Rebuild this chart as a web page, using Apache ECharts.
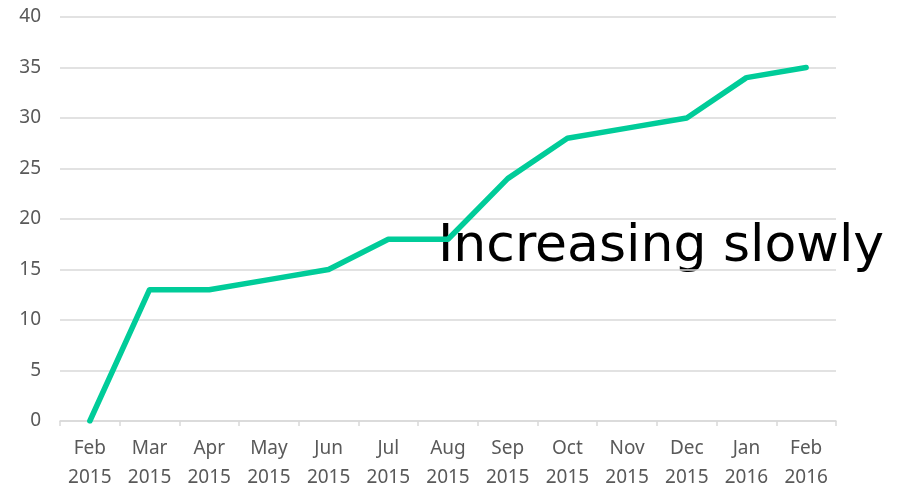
<!DOCTYPE html>
<html>
<head>
<meta charset="utf-8">
<script src="https://cdn.jsdelivr.net/npm/echarts@6/dist/echarts.min.js"></script>
<style>
  html, body { margin: 0; padding: 0; background: #fff; }
  #chart { width: 903px; height: 489px; }
</style>
</head>
<body>
<div id="chart"></div>
<script>
// categories and values
const months = ['Feb\n2015', 'Mar\n2015', 'Apr\n2015', 'May\n2015', 'Jun\n2015', 'Jul\n2015', 'Aug\n2015',
  'Sep\n2015', 'Oct\n2015', 'Nov\n2015', 'Dec\n2015', 'Jan\n2016', 'Feb\n2016']
const counts = [0, 13, 13, 14, 15, 18, 18, 24, 28, 29, 30, 34, 35]
const note = 'Increasing slowly'

const chart = echarts.init(document.getElementById('chart'))

chart.setOption({
  animation: false,
  grid: { left: 60, right: 67, top: 17, bottom: 68, outerBoundsMode: 'none' },
  textStyle: { fontFamily: 'Noto Sans' },
  xAxis: {
    type: 'category',
    data: months,
    boundaryGap: true,
    axisLine: { lineStyle: { color: '#d9d9d9', width: 1.5 } },
    axisTick: { show: true, length: 5, lineStyle: { color: '#d9d9d9', width: 1.5 } },
    axisLabel: { color: '#595959', fontSize: 19, lineHeight: 29, margin: 13, interval: 0 }
  },
  yAxis: {
    type: 'value',
    min: 0,
    max: 40,
    interval: 5,
    axisLine: { show: false },
    axisTick: { show: false },
    axisLabel: { color: '#595959', fontSize: 19, margin: 19 },
    splitLine: { lineStyle: { color: '#d9d9d9', width: 1.5 } }
  },
  series: [{
    type: 'line',
    data: counts,
    symbol: 'none',
    lineStyle: { color: '#00cc99', width: 5.5, cap: 'round', join: 'round' }
  }],
  graphic: [{
    type: 'text',
    left: 438,
    top: 221,
    style: { text: note, fill: '#000', font: '52px "DejaVu Sans"' }
  }]
})
</script>
</body>
</html>
